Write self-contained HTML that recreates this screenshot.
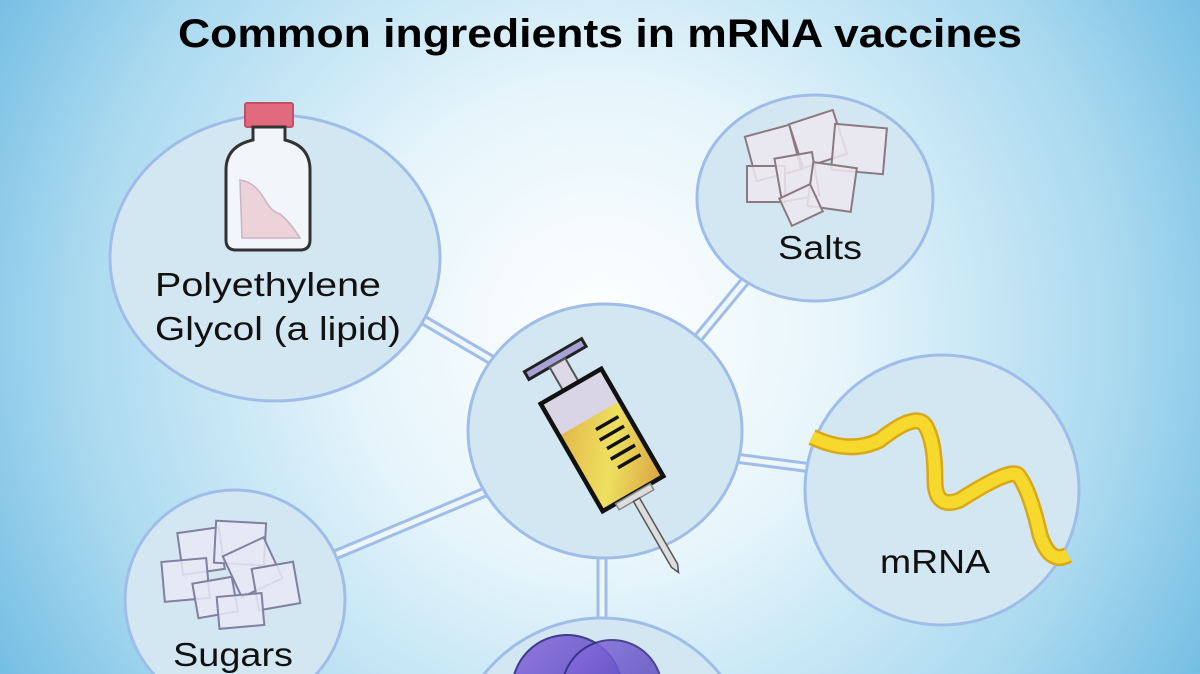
<!DOCTYPE html>
<html><head><meta charset="utf-8"><style>
html,body{margin:0;padding:0;width:1200px;height:674px;overflow:hidden}
svg{display:block;overflow:hidden}
text{font-family:"Liberation Sans",sans-serif}
</style></head><body>
<svg width="1200" height="674" viewBox="0 0 1200 674" xmlns="http://www.w3.org/2000/svg">
<defs>
<radialGradient id="bg" cx="600" cy="330" r="700" gradientUnits="userSpaceOnUse">
<stop offset="0" stop-color="#ffffff"/><stop offset="0.35" stop-color="#e6f5fb"/><stop offset="0.75" stop-color="#a9d9ef"/><stop offset="1" stop-color="#72bde3"/>
</radialGradient>
<linearGradient id="liq" x1="0" y1="0" x2="1" y2="1"><stop offset="0" stop-color="#e3b84a"/><stop offset="0.5" stop-color="#eee060"/><stop offset="1" stop-color="#d9a440"/></linearGradient>
<linearGradient id="prot" x1="0" y1="0" x2="1" y2="1"><stop offset="0" stop-color="#8a6ee0"/><stop offset="1" stop-color="#4a3fb0"/></linearGradient>
<clipPath id="cl"><rect width="1200" height="674"/></clipPath>
</defs>
<g clip-path="url(#cl)">
<rect width="1200" height="674" fill="url(#bg)"/>
<text x="600" y="47" text-anchor="middle" font-size="40" font-weight="bold" textLength="844" lengthAdjust="spacingAndGlyphs" fill="#000">Common ingredients in mRNA vaccines</text>

<g stroke="#9fbde8" stroke-width="11" stroke-linecap="butt">
<line x1="420" y1="318" x2="495" y2="362"/>
<line x1="750" y1="275" x2="698" y2="338"/>
<line x1="735" y1="458" x2="812" y2="468"/>
<line x1="335" y1="555" x2="490" y2="490"/>
<line x1="602" y1="550" x2="602" y2="625"/>
</g>
<g stroke="#eef6fc" stroke-width="5">
<line x1="420" y1="318" x2="495" y2="362"/>
<line x1="750" y1="275" x2="698" y2="338"/>
<line x1="735" y1="458" x2="812" y2="468"/>
<line x1="335" y1="555" x2="490" y2="490"/>
<line x1="602" y1="550" x2="602" y2="625"/>
</g>

<g fill="#d3e7f3" stroke="#9fbde8" stroke-width="3">
<ellipse cx="275" cy="258" rx="165" ry="143"/>
<ellipse cx="815" cy="198" rx="118" ry="103"/>
<ellipse cx="942" cy="490" rx="137" ry="135"/>
<ellipse cx="235" cy="600" rx="110" ry="110"/>
<ellipse cx="602" cy="765" rx="150" ry="147"/>
<ellipse cx="605" cy="431" rx="137" ry="127"/>
</g>

<!-- bottle -->
<rect x="245" y="103" width="48" height="24" rx="2" fill="#e06a7e" stroke="#c24f63" stroke-width="2"/>
<path d="M253 127 V140 Q226 146 226 170 V240 Q226 250 236 250 H300 Q310 250 310 240 V170 Q310 146 285 140 V127 Z" fill="#f2f5fa" stroke="#333" stroke-width="3"/>
<path d="M240 180 Q255 182 265 200 Q272 212 280 214 Q290 222 300 238 H242 Z" fill="#ecd3da" stroke="#c9b3c6" stroke-width="1.5"/>

<!-- salts -->
<g fill="#ece8ef" fill-opacity="0.85" stroke="#8a7a80" stroke-width="2">
<rect x="750" y="130" width="46" height="46" transform="rotate(-15 773 153)"/>
<rect x="795" y="116" width="46" height="46" transform="rotate(-18 818 139)"/>
<rect x="833" y="126" width="52" height="46" transform="rotate(5 859 149)"/>
<rect x="747" y="166" width="38" height="36"/>
<rect x="778" y="155" width="38" height="44" transform="rotate(-10 797 177)"/>
<rect x="810" y="165" width="44" height="44" transform="rotate(8 832 187)"/>
<rect x="784" y="190" width="34" height="30" transform="rotate(-25 801 205)"/>
</g>

<!-- sugars -->
<g fill="#e8e8f5" fill-opacity="0.85" stroke="#8080a0" stroke-width="2">
<rect x="180" y="530" width="42" height="42" transform="rotate(-8 201 551)"/>
<rect x="215" y="522" width="50" height="42" transform="rotate(3 240 543)"/>
<rect x="163" y="560" width="45" height="40" transform="rotate(-5 185 580)"/>
<rect x="230" y="545" width="45" height="45" transform="rotate(-25 252 567)"/>
<rect x="255" y="565" width="42" height="42" transform="rotate(-10 276 586)"/>
<rect x="195" y="580" width="40" height="35" transform="rotate(-10 215 597)"/>
<rect x="218" y="595" width="45" height="32" transform="rotate(-5 240 611)"/>
</g>

<!-- mRNA ribbon -->
<path d="M812 437 Q850 455 880 440 Q915 412 925 425 Q935 440 935 480 Q935 510 960 500 Q1010 468 1018 475 Q1030 490 1040 535 Q1050 565 1068 555" fill="none" stroke="#d9a818" stroke-width="17" stroke-linejoin="round"/>
<path d="M812 437 Q850 455 880 440 Q915 412 925 425 Q935 440 935 480 Q935 510 960 500 Q1010 468 1018 475 Q1030 490 1040 535 Q1050 565 1068 555" fill="none" stroke="#f6d92c" stroke-width="12" stroke-linejoin="round"/>

<!-- syringe -->
<g transform="translate(602 440) rotate(-30)">
<rect x="-33" y="-98" width="66" height="9" fill="#a7a2d6" stroke="#222" stroke-width="3"/>
<rect x="-9" y="-89" width="18" height="27" fill="#ddd9e8" stroke="#555" stroke-width="2"/>
<rect x="-35" y="-62" width="70" height="124" fill="#d9d5e4"/>
<rect x="-35" y="-25" width="70" height="87" fill="url(#liq)"/>
<rect x="-35" y="-62" width="70" height="124" fill="none" stroke="#111" stroke-width="4.5"/>
<g stroke="#111" stroke-width="3.5"><line x1="0" y1="-12" x2="26" y2="-12"/><line x1="-2" y1="-1" x2="26" y2="-1"/><line x1="0" y1="10" x2="26" y2="10"/><line x1="-2" y1="21" x2="26" y2="21"/><line x1="0" y1="32" x2="26" y2="32"/></g>
<rect x="-20" y="62" width="40" height="7" fill="#ddd" stroke="#888" stroke-width="1.5"/>
<path d="M-3.5 69 H3.5 V145 L0 153 L-3.5 145 Z" fill="#ddd" stroke="#555" stroke-width="1.5"/>
</g>

<!-- protein blobs -->
<circle cx="567" cy="690" r="55" fill="url(#prot)" opacity="0.9" stroke="#2e2a80" stroke-width="2"/>
<circle cx="612" cy="690" r="50" fill="url(#prot)" opacity="0.85" stroke="#2e2a80" stroke-width="2"/>

<g font-size="33" fill="#111">
<text x="155" y="296" textLength="226" lengthAdjust="spacingAndGlyphs">Polyethylene</text>
<text x="155" y="340" textLength="246" lengthAdjust="spacingAndGlyphs">Glycol (a lipid)</text>
<text x="778" y="259" textLength="84" lengthAdjust="spacingAndGlyphs">Salts</text>
<text x="880" y="573" textLength="110" lengthAdjust="spacingAndGlyphs">mRNA</text>
<text x="173" y="666" textLength="120" lengthAdjust="spacingAndGlyphs">Sugars</text>
</g>
</g>
</svg>
</body></html>
